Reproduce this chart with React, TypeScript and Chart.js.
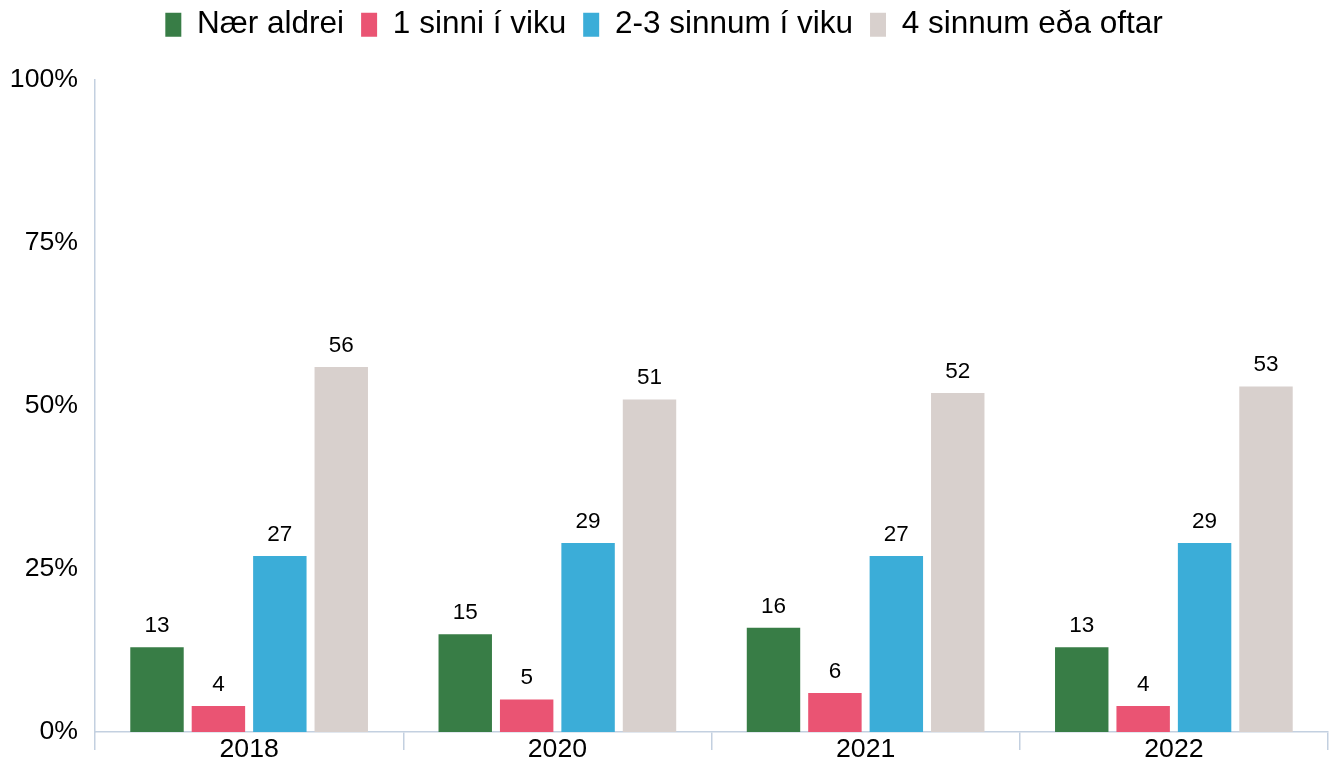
import React, { useEffect, useRef } from "react";
import { Chart, registerables } from "chart.js";

Chart.register(...registerables);

const categories = ["2018", "2020", "2021", "2022"];
const seriesNames = ["Nær aldrei", "1 sinni í viku", "2-3 sinnum í viku", "4 sinnum eða oftar"];
const naerAldrei = [13, 15, 16, 13];
const einuSinni = [4, 5, 6, 4];
const tvisvarTil3 = [27, 29, 27, 29];
const fjorumSinnum = [56, 51, 52, 53];
const yTicks = [0, 25, 50, 75, 100];

const colors = ["#387d46", "#ea5473", "#3badd8", "#d8d0cd"];
const axisColor = "#c3d0e0";
const FONT = "'Liberation Sans', Arial, Helvetica, sans-serif";

const legendFitPlugin = {
  id: "legendFit",
  beforeInit(chart: any) {
    const legend = chart.legend;
    if (!legend) return;
    const orig = legend.fit;
    legend.fit = function () {
      orig.call(this);
      this.height = 88;
    };
  },
};

const dataLabelPlugin = {
  id: "dataLabels",
  afterDatasetsDraw(chart: any) {
    const ctx = chart.ctx;
    ctx.save();
    ctx.font = `22.5px ${FONT}`;
    ctx.fillStyle = "#000";
    ctx.textAlign = "center";
    ctx.textBaseline = "alphabetic";
    chart.data.datasets.forEach((ds: any, i: number) => {
      const meta = chart.getDatasetMeta(i);
      meta.data.forEach((el: any, j: number) => {
        ctx.fillText(String(ds.data[j]), el.x, el.y - 15);
      });
    });
    ctx.restore();
  },
};

export default function App() {
  const ref = useRef<HTMLCanvasElement>(null);
  useEffect(() => {
    if (!ref.current) return;
    const series = [naerAldrei, einuSinni, tvisvarTil3, fjorumSinnum];
    const chart = new Chart(ref.current, {
      type: "bar",
      data: {
        labels: categories,
        datasets: series.map((d, i) => ({
          label: seriesNames[i],
          data: d,
          backgroundColor: colors[i],
          borderWidth: 0,
          categoryPercentage: 0.797,
          barPercentage: 0.87,
        })),
      },
      options: {
        responsive: false,
        animation: false,
        layout: { padding: { top: 0, left: 0, right: 9, bottom: 0 } },
        plugins: {
          tooltip: { enabled: false },
          legend: {
            position: "top",
            labels: {
              boxWidth: 16,
              boxHeight: 24,
              padding: 17,
              color: "#000",
              font: { family: FONT, size: 31.5 },
            },
          },
        },
        scales: {
          x: {
            offset: true,
            grid: {
              display: true,
              offset: true,
              drawOnChartArea: false,
              drawTicks: true,
              tickLength: 18,
              color: axisColor,
              lineWidth: 1.5,
            },
            border: { display: true, color: axisColor, width: 1.5 },
            ticks: {
              color: "#000",
              padding: -16,
              font: { family: FONT, size: 26.67 },
            },
            afterFit(scale: any) {
              scale.height = 30;
            },
          },
          y: {
            min: 0,
            max: 100,
            afterBuildTicks(scale: any) {
              scale.ticks = yTicks.map((v) => ({ value: v }));
            },
            grid: { display: false, drawTicks: false },
            border: { display: true, color: axisColor, width: 1.5 },
            ticks: {
              color: "#000",
              padding: 17,
              font: { family: FONT, size: 26.67 },
              callback: (v: any) => `${v}%`,
            },
            afterFit(scale: any) {
              scale.width = 95;
              scale.paddingTop = 0;
              scale.paddingBottom = 0;
            },
          },
        },
      },
      plugins: [legendFitPlugin, dataLabelPlugin],
    } as any);
    return () => chart.destroy();
  }, []);
  return (
    <div style={{ position: "fixed", left: 0, top: 0, width: 1337, height: 762, overflow: "hidden", background: "#fff" }}>
      <canvas ref={ref} width={1337} height={770} style={{ display: "block", marginTop: -8 }} />
    </div>
  );
}
